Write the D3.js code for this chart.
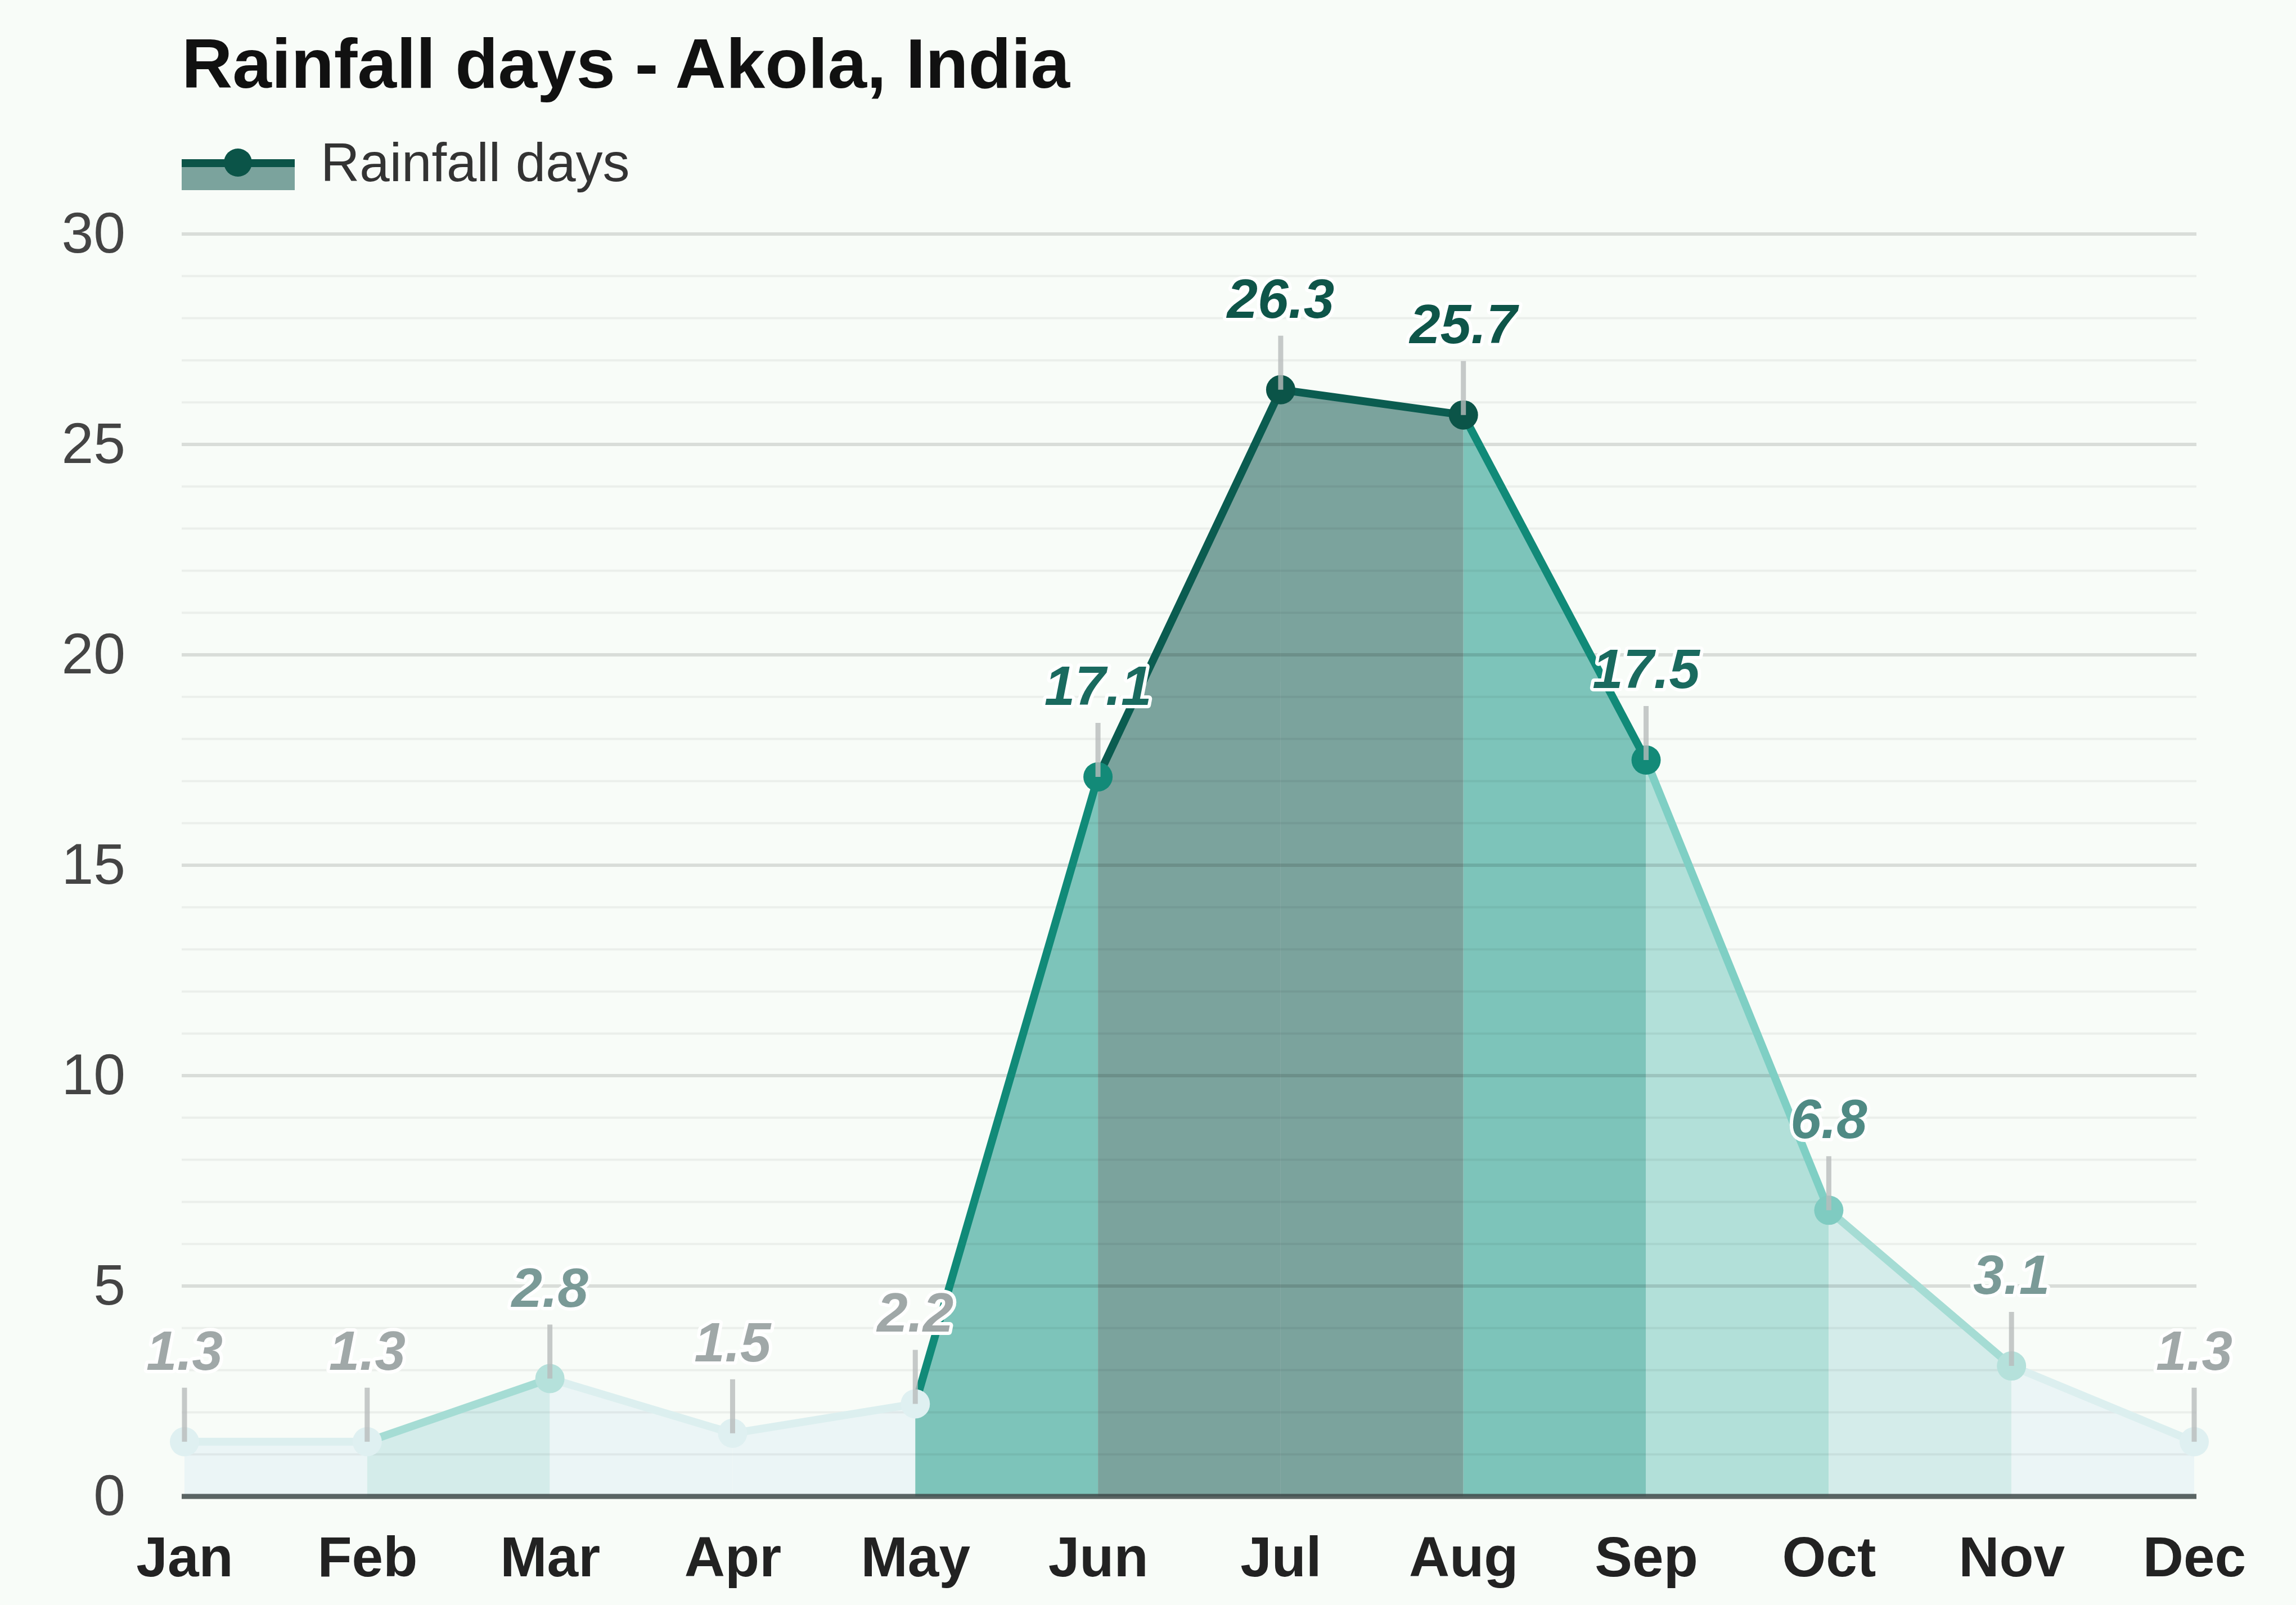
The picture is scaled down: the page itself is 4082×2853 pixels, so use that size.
<!doctype html>
<html>
<head>
	<title>Rainfall days - Akola, India</title>
	<meta charset="UTF-8">
	<script src="https://d3js.org/d3.v7.min.js"></script>
	<style>
		body { margin: 0; background: #f8fcf8; }
		text { font-family: "Liberation Sans", Arial, sans-serif; }
	</style>
</head>
<body>
	<script>

		// chart data
		var months = ["Jan", "Feb", "Mar", "Apr", "May", "Jun", "Jul", "Aug", "Sep", "Oct", "Nov", "Dec"];
		var rainDays = [1.3, 1.3, 2.8, 1.5, 2.2, 17.1, 26.3, 25.7, 17.5, 6.8, 3.1, 1.3];
		var yTicks = [0, 5, 10, 15, 20, 25, 30];
		var title = "Rainfall days - Akola, India";
		var seriesName = "Rainfall days";

		// colour bands (very light -> dark)
		var bandLimits = [2.5, 5, 10, 20];
		var fillColors = ["#ebf5f6", "#d4ecea", "#b2e0d9", "#7dc4ba", "#7ba39d"];
		var lineColors = ["#dcefef", "#a5dcd4", "#7fcfc4", "#118a78", "#0b5c50"];
		var dotColors = ["#dff0f1", "#b5e1db", "#7fcbc1", "#138a78", "#0b5448"];
		var labelColors = ["#a0a8a8", "#7a9a97", "#4f8a84", "#1a6a5f", "#0e5549"];

		var width = 4082,
			height = 2853;

		var band = d3.scaleThreshold()
			.domain(bandLimits)
			.range([0, 1, 2, 3, 4]);

		var x = d3.scalePoint()
			.domain(months)
			.range([328, 3901]);

		var y = d3.scaleLinear()
			.domain([0, 30])
			.range([2660, 416]);

		var data = months.map(function(m, i) {
			return {month: m, value: rainDays[i]};
		});

		var svg = d3.select("body")
			.append("svg")
				.attr("width", width)
				.attr("height", height);

		svg.append("rect")
			.attr("width", width)
			.attr("height", height)
			.attr("fill", "#f8fcf8");

		// title
		svg.append("text")
			.attr("x", 323)
			.attr("y", 156)
			.attr("font-size", 125)
			.attr("font-weight", "bold")
			.attr("fill", "#111")
			.text(title);

		// legend
		var legend = svg.append("g");
		legend.append("rect")
			.attr("x", 323)
			.attr("y", 290)
			.attr("width", 201)
			.attr("height", 48)
			.attr("fill", fillColors[4]);
		legend.append("line")
			.attr("x1", 323)
			.attr("x2", 524)
			.attr("y1", 290)
			.attr("y2", 290)
			.attr("stroke", dotColors[4])
			.attr("stroke-width", 14);
		legend.append("circle")
			.attr("cx", 423)
			.attr("cy", 289)
			.attr("r", 25)
			.attr("fill", dotColors[4]);
		legend.append("text")
			.attr("x", 570)
			.attr("y", 322)
			.attr("font-size", 96)
			.attr("fill", "#333")
			.text(seriesName);

		// area segments, each coloured by its right-hand point
		var area = d3.area()
			.x(function(d) { return x(d.month); })
			.y0(y(0))
			.y1(function(d) { return y(d.value); });

		var line = d3.line()
			.x(function(d) { return x(d.month); })
			.y(function(d) { return y(d.value); });

		var segments = d3.pairs(data);

		svg.append("g")
			.selectAll("path")
			.data(segments)
			.enter()
			.append("path")
				.attr("d", area)
				.attr("fill", function(d) { return fillColors[band(d[1].value)]; });

		// grid lines, drawn over the areas so they show through
		var gridValues = d3.range(0, 31);
		svg.append("g")
			.selectAll("line")
			.data(gridValues.filter(function(v) { return v > 0; }))
			.enter()
			.append("line")
				.attr("x1", 323)
				.attr("x2", 3905)
				.attr("y1", function(d) { return y(d); })
				.attr("y2", function(d) { return y(d); })
				.attr("stroke", "#000")
				.attr("stroke-opacity", function(d) { return d % 5 == 0 ? 0.12 : 0.05; })
				.attr("stroke-width", function(d) { return d % 5 == 0 ? 6 : 4; });

		// baseline axis
		svg.append("line")
			.attr("x1", 323)
			.attr("x2", 3905)
			.attr("y1", y(0))
			.attr("y2", y(0))
			.attr("stroke", "#3f4a4a")
			.attr("stroke-opacity", 0.85)
			.attr("stroke-width", 9);

		// y axis labels
		var yAxis = d3.axisLeft(y)
			.tickValues(yTicks)
			.tickSize(0)
			.tickPadding(0);
		var yAxisG = svg.append("g")
			.attr("transform", "translate(223,0)")
			.call(yAxis);
		yAxisG.select(".domain").remove();
		yAxisG.selectAll("text")
			.attr("font-size", 102)
			.attr("font-family", "Liberation Sans, Arial, sans-serif")
			.attr("fill", "#444");

		// x axis labels
		var xAxis = d3.axisBottom(x)
			.tickSize(0)
			.tickPadding(0);
		var xAxisG = svg.append("g")
			.attr("transform", "translate(0,2730)")
			.call(xAxis);
		xAxisG.select(".domain").remove();
		xAxisG.selectAll("text")
			.attr("dy", "0.72em")
			.attr("font-size", 100)
			.attr("font-weight", "bold")
			.attr("font-family", "Liberation Sans, Arial, sans-serif")
			.attr("fill", "#222");

		// line segments
		svg.append("g")
			.selectAll("path")
			.data(segments)
			.enter()
			.append("path")
				.attr("d", line)
				.attr("fill", "none")
				.attr("stroke", function(d) { return lineColors[band(d[1].value)]; })
				.attr("stroke-width", 14)
				.attr("stroke-linecap", "round");

		// point markers
		svg.append("g")
			.selectAll("circle")
			.data(data)
			.enter()
			.append("circle")
				.attr("cx", function(d) { return x(d.month); })
				.attr("cy", function(d) { return y(d.value); })
				.attr("r", 26)
				.attr("fill", function(d) { return dotColors[band(d.value)]; });

		// connector ticks from label to point
		svg.append("g")
			.selectAll("line")
			.data(data)
			.enter()
			.append("line")
				.attr("x1", function(d) { return x(d.month); })
				.attr("x2", function(d) { return x(d.month); })
				.attr("y1", function(d) { return y(d.value) - 96; })
				.attr("y2", function(d) { return y(d.value); })
				.attr("stroke", "#b8bcbc")
				.attr("stroke-opacity", 0.8)
				.attr("stroke-width", 9);

		// value labels
		svg.append("g")
			.selectAll("text")
			.data(data)
			.enter()
			.append("text")
				.attr("x", function(d) { return x(d.month); })
				.attr("y", function(d) { return y(d.value) - 128; })
				.attr("text-anchor", "middle")
				.attr("font-size", 98)
				.attr("font-weight", "bold")
				.attr("font-style", "italic")
				.attr("fill", function(d) { return labelColors[band(d.value)]; })
				.attr("stroke", "#ffffff")
				.attr("stroke-width", 12)
				.attr("stroke-linejoin", "round")
				.attr("paint-order", "stroke")
				.text(function(d) { return d.value.toFixed(1); });

	</script>
</body>
</html>
